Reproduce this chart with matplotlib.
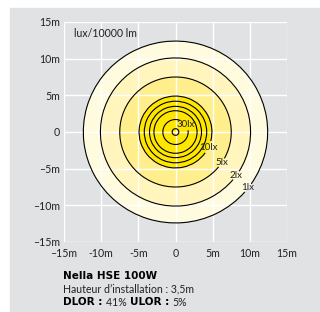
import matplotlib
matplotlib.use("Agg")
import matplotlib.pyplot as plt
from matplotlib.patches import Circle, Arc
import numpy as np

# iso-lux levels and their radius (m)
levels = [1, 2, 5, 10, 15, 20, 25, 30, 50]
radii = [12.4, 10.1, 7.5, 4.9, 4.2, 3.5, 2.9, 1.7, 0.45]
fill_colors = ["#FFFBDF", "#FFF5BD", "#FFEF8C", "#FFE600", "#FFE600",
               "#FFE600", "#FFE600", "#FFE600", "#FFE600"]

# labelled levels and the angle (deg) where their label sits
label_levels = [1, 2, 5, 10, 30]
label_angles = [-38, -36, -34, -25, 38]

ticks = [-15, -10, -5, 0, 5, 10, 15]
xtick_labels = ["–15m", "-10m", "-5m", "0", "5m", "10m", "15m"]
ytick_labels = ["–15m", "–10m", "–5m", "0", "5m", "10m", "15m"]

plt.rcParams['font.family'] = ['Lato', 'DejaVu Sans']
bold_font = "DejaVu Sans"

fig = plt.figure(figsize=(3.2, 3.12), dpi=100)
fig.patches.append(plt.Rectangle((10 / 320, 0), 1, 1 - 8 / 312, transform=fig.transFigure,
                                 color="#E1E2E4", zorder=-10))
ax = fig.add_axes([64 / 320, 1 - 242 / 312, 223 / 320, 220 / 312])
ax.set_facecolor("#E1E2E4")
ax.set_xlim(-15, 15)
ax.set_ylim(-15, 15)

# filled bands, outer first
for r, c in zip(radii, fill_colors):
    ax.add_patch(Circle((0, 0), r, facecolor=c, edgecolor="none", zorder=1))

# white grid over the fills
ax.set_xticks(ticks)
ax.set_yticks(ticks)
ax.set_xticklabels(xtick_labels)
ax.set_yticklabels(ytick_labels)
ax.set_axisbelow(False)
ax.grid(True, color="white", linewidth=1.0)
ax.tick_params(length=0, labelsize=7.6, colors="#222222")
ax.tick_params(axis="x", pad=4)
ax.tick_params(axis="y", pad=3)
for s in ax.spines.values():
    s.set_visible(False)

# contour lines with gaps where the labels are
for lev, r in zip(levels, radii):
    if lev in label_levels:
        a = label_angles[label_levels.index(lev)]
        txt = "%dlx" % lev
        gap = np.degrees((len(txt) * 2.8 + 2) / (r * 7.4)) / 2
        ax.add_patch(Arc((0, 0), 2 * r, 2 * r, theta1=a + gap, theta2=a - gap + 360,
                         color="black", linewidth=0.8, zorder=3))
        ax.text(r * np.cos(np.radians(a)), r * np.sin(np.radians(a)), txt,
                ha="center", va="center", fontsize=7, color="#222222",
                zorder=4)
    else:
        ax.add_patch(Arc((0, 0), 2 * r, 2 * r, color="black", linewidth=0.8, zorder=3))

ax.text(-13.7, 13.4, "lux/10000 lm", fontsize=7.6, color="#222222",
        ha="left", va="center", zorder=4)

fig.text(63 / 320, 1 - 276 / 312, "Nella HSE 100W", fontsize=7.5, family=bold_font,
         fontweight="bold", va="center", color="black")
fig.text(63 / 320, 1 - 289 / 312, "Hauteur d\u2019installation : 3,5m", fontsize=7.6,
         va="center", color="#222222")
# last line mixes bold and regular pieces
y3 = 1 - 302 / 312
x = 63 / 320
renderer = fig.canvas.get_renderer()
for piece, bold in [("DLOR : ", True), ("41% ", False), ("ULOR : ", True), ("5%", False)]:
    if bold:
        t = fig.text(x, y3, piece, fontsize=7.5, family=bold_font, fontweight="bold",
                     va="center", color="black")
    else:
        t = fig.text(x, y3, piece, fontsize=7.6, va="center", color="#222222")
    x = t.get_window_extent(renderer=renderer).x1 / 320

fig.savefig("out.png", dpi=100)
